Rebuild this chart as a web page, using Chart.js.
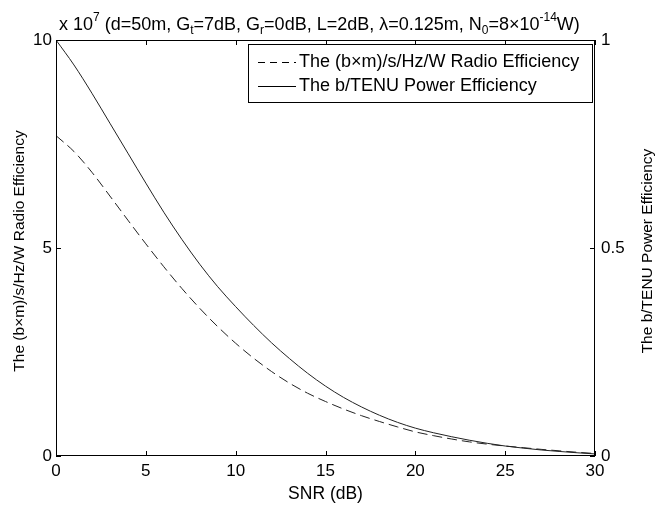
<!DOCTYPE html>
<html>
<head>
<meta charset="utf-8">
<script src="https://cdn.jsdelivr.net/npm/chart.js@4/dist/chart.umd.min.js"></script>
<style>
  html, body { margin: 0; padding: 0; background: #fff; }
  #wrap { width: 670px; height: 508px; }
</style>
</head>
<body>
<div id="wrap"><canvas id="chart" width="670" height="508"></canvas></div>
<script>
// ── Data ─────────────────────────────────────────────────────
const snrDb = [0, 1, 2, 3, 4, 5, 6, 7, 8, 9, 10, 11, 12, 13, 14, 15,
               16, 17, 18, 19, 20, 21, 22, 23, 24, 25, 26, 27, 28, 29, 30];

// (b×m)/s/Hz/W radio efficiency, in units of 10^7 (left axis)
const radioEff = [7.7, 7.32, 6.82, 6.25, 5.67, 5.1, 4.55, 4.03, 3.55, 3.11, 2.71,
                  2.35, 2.03, 1.75, 1.51, 1.31, 1.13, 0.97, 0.83, 0.7, 0.58,
                  0.49, 0.41, 0.34, 0.285, 0.24, 0.2, 0.16, 0.125, 0.09, 0.06];

// b/TENU power efficiency (right axis)
const powerEff = [1.0, 0.94, 0.872, 0.8, 0.728, 0.656, 0.586, 0.521, 0.461, 0.407, 0.359,
                  0.314, 0.272, 0.234, 0.199, 0.168, 0.141, 0.118, 0.098, 0.081, 0.067,
                  0.056, 0.0465, 0.038, 0.0305, 0.024, 0.019, 0.0145, 0.011, 0.0078, 0.005];

const xTicks = [0, 5, 10, 15, 20, 25, 30];
const leftTicks = [0, 5, 10];
const rightTicks = [0, 0.5, 1];

const FONT = 'Liberation Sans, Arial, sans-serif';
const INK = '#000';

// ── Frame, inward ticks, titles and legend (MATLAB look) ─────
const matlabFrame = {
  id: 'matlabFrame',
  afterDatasetsDraw(chart) {
    const { ctx, chartArea: a, scales } = chart;
    const tl = 5;
    ctx.save();
    ctx.strokeStyle = INK;
    ctx.lineWidth = 1;
    ctx.strokeRect(a.left + 0.5, a.top + 0.5, a.right - a.left - 1, a.bottom - a.top - 1);

    ctx.beginPath();
    xTicks.forEach(v => {
      const x = Math.round(scales.x.getPixelForValue(v)) + 0.5;
      ctx.moveTo(x, a.bottom); ctx.lineTo(x, a.bottom - tl);
      ctx.moveTo(x, a.top);    ctx.lineTo(x, a.top + tl);
    });
    leftTicks.forEach(v => {
      const y = Math.round(scales.y.getPixelForValue(v)) + 0.5;
      ctx.moveTo(a.left, y); ctx.lineTo(a.left + tl, y);
    });
    rightTicks.forEach(v => {
      const y = Math.round(scales.y2.getPixelForValue(v)) + 0.5;
      ctx.moveTo(a.right, y); ctx.lineTo(a.right - tl, y);
    });
    ctx.stroke();

    // title with sub/superscripts
    const big = '18px ' + FONT, small = '12px ' + FONT;
    const parts = [
      ['x 10', 0], ['7', -1], [' (d=50m, G', 0], ['t', 1], ['=7dB, G', 0], ['r', 1],
      ['=0dB, L=2dB, \u03bb=0.125m, N', 0], ['0', 1], ['=8\u00d710', 0], ['-14', -1], ['W)', 0]
    ];
    let x = 59;
    const base = 30;
    ctx.fillStyle = INK;
    ctx.textBaseline = 'alphabetic';
    ctx.textAlign = 'left';
    parts.forEach(([t, s]) => {
      ctx.font = s === 0 ? big : small;
      const y = s < 0 ? base - 9 : s > 0 ? base + 4 : base;
      ctx.fillText(t, x, y);
      x += ctx.measureText(t).width;
    });

    // vertical axis titles, both reading bottom-to-top
    const vFont = '15.5px ' + FONT;
    const midY = (a.top + a.bottom) / 2 + 3;
    [[20, 'The (b\u00d7m)/s/Hz/W Radio Efficiency'], [648, 'The b/TENU Power Efficiency']].forEach(([tx, txt]) => {
      ctx.save();
      ctx.translate(tx, midY);
      ctx.rotate(-Math.PI / 2);
      ctx.font = vFont;
      ctx.textAlign = 'center';
      ctx.textBaseline = 'middle';
      ctx.fillText(txt, 0, 0);
      ctx.restore();
    });

    // legend box
    const lx = 248, ly = 44, lw = 344, lh = 58;
    ctx.fillStyle = '#fff';
    ctx.fillRect(lx, ly, lw, lh);
    ctx.strokeRect(lx + 0.5, ly + 0.5, lw, lh);
    ctx.font = big;
    ctx.fillStyle = INK;
    ctx.textAlign = 'left';
    ctx.textBaseline = 'middle';
    const rows = [
      { label: 'The (b\u00d7m)/s/Hz/W Radio Efficiency', dash: [7, 5], y: ly + 18 },
      { label: 'The b/TENU Power Efficiency', dash: [], y: ly + 42 }
    ];
    rows.forEach(r => {
      ctx.setLineDash(r.dash);
      ctx.beginPath();
      ctx.moveTo(lx + 10, r.y + 0.5);
      ctx.lineTo(lx + 48, r.y + 0.5);
      ctx.stroke();
      ctx.setLineDash([]);
      ctx.fillText(r.label, lx + 51, r.y);
    });
    ctx.restore();
  }
};

const tickFont = { family: FONT, size: 17 };

new Chart(document.getElementById('chart'), {
  type: 'line',
  data: {
    labels: snrDb,
    datasets: [
      {
        label: 'The (b\u00d7m)/s/Hz/W Radio Efficiency',
        data: radioEff,
        yAxisID: 'y',
        borderColor: '#222',
        borderWidth: 1,
        borderDash: [10, 5],
        pointRadius: 0,
        cubicInterpolationMode: 'monotone'
      },
      {
        label: 'The b/TENU Power Efficiency',
        data: powerEff,
        yAxisID: 'y2',
        borderColor: '#222',
        borderWidth: 1,
        pointRadius: 0,
        cubicInterpolationMode: 'monotone'
      }
    ]
  },
  options: {
    responsive: false,
    animation: false,
    layout: { padding: { top: 40, left: 0, right: 0, bottom: 0 } },
    plugins: { legend: { display: false }, title: { display: false }, tooltip: { enabled: false } },
    scales: {
      x: {
        type: 'linear',
        min: 0, max: 30,
        afterBuildTicks: s => { s.ticks = xTicks.map(v => ({ value: v })); },
        afterFit: s => { s.height = 52; },
        grid: { display: false, drawTicks: false },
        border: { display: false },
        ticks: { color: INK, font: tickFont, padding: 5, maxRotation: 0 },
        title: { display: true, text: 'SNR (dB)', color: INK, font: { family: FONT, size: 17.5 }, padding: { top: 0, bottom: 3 } }
      },
      y: {
        position: 'left',
        min: 0, max: 10,
        afterBuildTicks: s => { s.ticks = leftTicks.map(v => ({ value: v })); },
        afterFit: s => { s.width = 56; },
        grid: { display: false, drawTicks: false },
        border: { display: false },
        ticks: { color: INK, font: tickFont, padding: 4 }
      },
      y2: {
        position: 'right',
        min: 0, max: 1,
        afterBuildTicks: s => { s.ticks = rightTicks.map(v => ({ value: v })); },
        afterFit: s => { s.width = 75; },
        grid: { display: false, drawTicks: false },
        border: { display: false },
        ticks: { color: INK, font: tickFont, padding: 6, callback: v => String(v) }
      }
    }
  },
  plugins: [matlabFrame]
});
</script>
</body>
</html>
